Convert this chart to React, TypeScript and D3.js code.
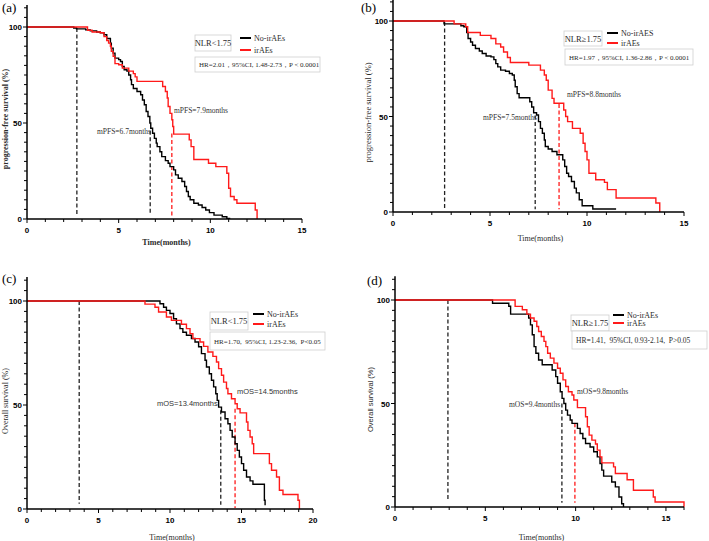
import React from "react";
import * as d3 from "d3";

type Pt = [number, number];

// ---------- DATA (time in months, survival %) ----------
const aNoIrAEs: Pt[] = [[0,100],[2.55,99.5],[2.7,99],[3.2,98.5],[3.45,98],[3.8,97.4],[4.0,97],[4.2,96],[4.35,94],[4.55,91.6],[4.6,89],[4.7,86.4],[4.8,83.8],[5.0,83],[5.1,82],[5.2,79.5],[5.3,77.7],[5.45,77],[5.55,75],[5.65,72.5],[5.7,70],[5.8,68],[6.0,66.4],[6.2,64.7],[6.3,62],[6.4,59.5],[6.5,56],[6.6,53.4],[6.7,50],[6.75,47.3],[6.85,44.7],[6.95,42],[7.05,39.5],[7.1,37.7],[7.25,35],[7.35,32.5],[7.55,30.4],[7.7,29],[7.8,27.3],[8.0,25.6],[8.1,23],[8.25,21.2],[8.45,19.5],[8.6,16.9],[8.7,14.3],[8.8,11.7],[8.9,10],[9.1,8.2],[9.35,7.3],[9.55,6],[9.75,4.7],[9.95,3.3],[10.2,2],[10.65,1.2],[10.9,0.3],[11.05,0]];
const aIrAEs: Pt[] = [[0,100],[3.3,98.3],[3.55,97.4],[4.0,97],[4.2,95],[4.35,93],[4.45,91.6],[4.55,90],[4.6,87.3],[4.7,84.7],[4.8,80.9],[5.0,80.3],[5.2,78.6],[5.55,77],[5.8,75.7],[5.9,74],[6.0,71.7],[7.4,69],[7.55,66.4],[7.65,63],[7.7,58.6],[7.8,55],[7.9,51.7],[7.95,48.2],[8.0,44.2],[8.85,41.2],[8.95,37.7],[9.1,31],[9.9,29],[10.3,27.3],[10.9,23.8],[11.0,16],[11.1,11.7],[11.3,10],[11.45,8.2],[12.45,4.7],[12.55,0]];

const bNoIrAEs: Pt[] = [[0,100],[2.63,98.5],[3.5,97.5],[3.65,97],[3.8,94],[3.87,90.8],[4.0,89],[4.1,87.3],[4.25,85.6],[4.45,84.3],[4.6,83],[4.8,81.7],[5.05,81.2],[5.2,79.8],[5.3,77.7],[5.4,76],[5.55,74.3],[5.8,73.7],[6.0,72.5],[6.15,71.7],[6.25,69],[6.3,65.6],[6.4,62],[6.5,59.8],[7.05,57.7],[7.15,55],[7.25,52],[7.4,50.8],[7.5,47.3],[7.6,43.8],[7.7,41.2],[7.8,37.7],[7.85,34.3],[8.0,33],[8.2,31.7],[8.45,30],[8.75,27.3],[8.85,23.8],[8.95,20.3],[9.05,18.6],[9.2,16],[9.35,12.5],[9.45,10],[9.6,6.4],[9.75,3.3],[10.3,1.6],[11.5,1.6]];
const bIrAEs: Pt[] = [[0,100],[3.15,98.5],[3.75,97],[3.85,94],[4.5,92.5],[5.05,90.8],[5.3,88],[5.55,86.4],[5.7,83.8],[5.9,80.9],[6.05,78.3],[7.0,76.9],[7.6,74.3],[7.8,71.7],[7.9,69],[8.0,63.8],[8.2,59.5],[8.3,56.9],[8.8,53.4],[8.9,50],[9.0,47.3],[9.25,43.8],[9.65,41.2],[9.8,36],[9.9,31.7],[10.0,27.3],[10.1,20.3],[10.45,16.9],[10.9,15.5],[11.05,11.7],[11.5,7.3],[13.55,4.7],[13.75,0]];

const cNoIrAEs: Pt[] = [[0,100],[9.3,98.7],[9.55,97],[9.75,95.5],[10.0,94],[10.25,91.5],[10.45,89],[10.7,86.7],[10.9,85],[11.15,83.5],[11.5,82],[11.75,80.3],[12.0,78],[12.2,74.7],[12.45,71.5],[12.55,68.3],[12.75,65],[12.9,61.9],[13.05,58.7],[13.2,55.4],[13.3,52.2],[13.4,49],[13.6,46.6],[13.85,43.4],[14.05,41],[14.2,37.8],[14.35,34.6],[14.55,31.4],[14.7,28.2],[14.85,25],[15.0,21.8],[15.15,18.6],[15.35,15.4],[15.6,13.5],[15.8,11.9],[16.6,4.2],[16.65,1.8]];
const cIrAEs: Pt[] = [[0,100],[8.25,98.5],[8.95,97],[9.2,94.7],[9.75,92.3],[10.1,90.7],[10.8,88.8],[11.15,86.7],[11.4,84.3],[11.6,81.9],[12.1,80.3],[12.35,78.2],[12.65,75.5],[13.0,73.4],[13.25,70.7],[13.4,67.5],[13.6,64.3],[13.75,61],[13.95,57.9],[14.05,55.4],[14.3,53],[14.55,50.6],[14.7,48.2],[14.9,46.2],[15.35,41.8],[15.45,37.8],[15.6,34.6],[15.75,31.4],[15.85,26.6],[16.95,21.8],[17.1,18.6],[17.45,15.4],[17.65,9],[17.9,7],[18.95,4.2],[19.05,0]];

const dNoIrAEs: Pt[] = [[0,100],[5.4,98.4],[6.3,97],[6.4,93.2],[7.4,91.3],[7.5,88],[7.6,83.2],[7.7,77.5],[7.8,74.3],[7.95,71],[8.15,68.7],[8.7,66.2],[8.9,63],[9.0,59.8],[9.15,55.7],[9.25,52.5],[9.35,50],[9.45,46.8],[9.55,44.4],[9.7,42],[9.8,40.4],[10.1,38],[10.25,35.5],[10.4,33.1],[10.55,30.7],[10.8,29],[11.0,26.7],[11.2,24.2],[11.35,21],[11.45,17.8],[11.55,14.9],[12.0,12.1],[12.2,9.7],[12.4,4.8],[12.55,1.6],[12.65,0]];
const dIrAEs: Pt[] = [[0,100],[6.65,96.9],[7.05,95.3],[7.3,93.2],[7.5,91.3],[7.7,89.7],[7.85,87.2],[7.95,84.8],[8.1,82.4],[8.25,80],[8.35,77.5],[8.45,74.3],[8.6,71.9],[8.8,69.5],[9.0,67],[9.15,64.6],[9.3,61.4],[9.45,58.2],[9.6,55.7],[9.8,54.1],[9.9,51.7],[10.1,48],[10.55,43.6],[10.65,38.8],[10.75,34.7],[10.9,32.3],[11.1,30.4],[11.2,27.5],[11.35,24.2],[11.45,21.3],[12.1,19.4],[12.2,16.2],[12.85,13.2],[13.2,8.1],[14.3,4.8],[14.4,2.4],[16.0,0]];

// dashed reference lines: [time, top %, bottom %, colour key]
const aDashes: [number, number, number, string][] = [[2.72, 99.5, 2, "k"], [6.72, 46, 2, "k"], [7.9, 44.5, 0.5, "r"]];
const bDashes: [number, number, number, string][] = [[2.66, 99.5, 1.5, "k"], [7.33, 50.5, 1.5, "k"], [8.56, 56.5, 1.5, "r"]];
const cDashes: [number, number, number, string][] = [[3.65, 100, 2.5, "k"], [13.55, 47.5, 2, "k"], [14.55, 48.2, 0.5, "r"]];
const dDashes: [number, number, number, string][] = [[2.93, 100, 3, "k"], [9.24, 50, 2, "k"], [9.96, 40.5, 2, "r"]];

const yTicksMajor = [0, 50, 100];
const legendLabelsA = ["No-irAEs", "irAEs"];
const legendLabelsB = ["No-irAES", "irAEs"];

const RED = "#ff1a1a";
const BLACK = "#000";
const SERIF = "'Liberation Serif', 'Times New Roman', serif";
const SANS = "'Liberation Sans', Arial, sans-serif";

interface PanelCfg {
  tag: string; tagX: number; tagY: number;
  x0: number; x1: number; xMax: number; xMajorStep: number;
  yTop: number; yBottom: number;
  no: Pt[]; ir: Pt[]; dashes: [number, number, number, string][];
  yTitle: string; yTitleX: number; yTitleFont: string; yTitleBold: boolean; yTitleSize: number;
  xTitleY: number; xTitleBold: boolean;
  nlr: string; nlrBox: [number, number, number, number];
  legX: number; legY: [number, number]; legLabels: string[];
  hr: string; hrBox: [number, number, number, number]; hrSize: number;
  ann: { text: string; x: number; y: number; font: string; size: number }[];
}

const panels: PanelCfg[] = [
  {
    tag: "(a)", tagX: 2, tagY: 12, x0: 27, x1: 302, xMax: 15, xMajorStep: 5, yTop: 27, yBottom: 219,
    no: aNoIrAEs, ir: aIrAEs, dashes: aDashes,
    yTitle: "progression-free survival (%)", yTitleX: 8, yTitleFont: SERIF, yTitleBold: true, yTitleSize: 8,
    xTitleY: 245, xTitleBold: true,
    nlr: "NLR<1.75", nlrBox: [195, 35, 36, 16], legX: 240, legY: [38, 50], legLabels: legendLabelsA,
    hr: "HR=2.01，95%CI, 1.48-2.73，P＜0.0001", hrBox: [195, 57, 125, 15], hrSize: 7,
    ann: [
      { text: "mPFS=6.7months", x: 97, y: 134, font: SERIF, size: 7.5 },
      { text: "mPFS=7.9months", x: 174, y: 113, font: SERIF, size: 7.5 },
    ],
  },
  {
    tag: "(b)", tagX: 361, tagY: 12, x0: 393, x1: 684, xMax: 15, xMajorStep: 5, yTop: 21, yBottom: 212,
    no: bNoIrAEs, ir: bIrAEs, dashes: bDashes,
    yTitle: "progression-free survival (%)", yTitleX: 371, yTitleFont: SERIF, yTitleBold: false, yTitleSize: 8.5,
    xTitleY: 241, xTitleBold: false,
    nlr: "NLR≥1.75", nlrBox: [564, 31, 38, 15], legX: 607, legY: [33, 43], legLabels: legendLabelsB,
    hr: "HR=1.97，95%CI, 1.36-2.86，P＜0.0001", hrBox: [565, 49, 128, 16], hrSize: 7,
    ann: [
      { text: "mPFS=7.5months", x: 483, y: 120, font: SERIF, size: 7.5 },
      { text: "mPFS=8.8months", x: 567, y: 97, font: SERIF, size: 7.5 },
    ],
  },
  {
    tag: "(c)", tagX: 2, tagY: 283, x0: 27, x1: 313, xMax: 20, xMajorStep: 5, yTop: 301, yBottom: 509,
    no: cNoIrAEs, ir: cIrAEs, dashes: cDashes,
    yTitle: "Overall survival (%)", yTitleX: 8, yTitleFont: SERIF, yTitleBold: false, yTitleSize: 8,
    xTitleY: 540, xTitleBold: false,
    nlr: "NLR<1.75", nlrBox: [210, 312, 38, 18], legX: 253, legY: [314, 324], legLabels: legendLabelsA,
    hr: "HR=1.70,  95%CI, 1.23-2.36,  P<0.05", hrBox: [210, 332, 115, 18], hrSize: 7,
    ann: [
      { text: "mOS=13.4months", x: 157, y: 406, font: SANS, size: 7.5 },
      { text: "mOS=14.5months", x: 237, y: 394, font: SANS, size: 7.5 },
    ],
  },
  {
    tag: "(d)", tagX: 367, tagY: 285, x0: 395, x1: 684, xMax: 16, xMajorStep: 5, yTop: 300, yBottom: 507,
    no: dNoIrAEs, ir: dIrAEs, dashes: dDashes,
    yTitle: "Overall survival (%)", yTitleX: 373, yTitleFont: SANS, yTitleBold: false, yTitleSize: 7.5,
    xTitleY: 540, xTitleBold: false,
    nlr: "NLR≥1.75", nlrBox: [571, 315, 38, 16], legX: 613, legY: [315, 323], legLabels: legendLabelsA,
    hr: "HR=1.41,  95%CI, 0.93-2.14,  P>0.05", hrBox: [572, 331, 135, 18], hrSize: 7.5,
    ann: [
      { text: "mOS=9.4months", x: 509, y: 407, font: SERIF, size: 7.5 },
      { text: "mOS=9.8months", x: 577, y: 394, font: SERIF, size: 7.5 },
    ],
  },
];

function Panel({ p }: { p: PanelCfg }) {
  const x = d3.scaleLinear().domain([0, p.xMax]).range([p.x0, p.x1]);
  const y = d3.scaleLinear().domain([0, 100]).range([p.yBottom, p.yTop]);
  const line = d3.line<Pt>().x((d) => x(d[0])).y((d) => y(d[1])).curve(d3.curveStepAfter);
  const xMinor = d3.range(0, p.xMax + 0.001, 1);
  const xMajor = d3.range(0, p.xMax + 0.001, p.xMajorStep);
  const yMinor = d3.range(0, 111, 5);
  const axisY = y(0);
  const axisX = x(0);
  const yAxisTop = y(111.5);
  const xTitleCx = (x(0) + x(p.xMax)) / 2 + 2;
  const yTitleCy = (y(0) + y(100)) / 2 - 4;
  const txt = "#2a2a2a";
  return (
    <g>
      <text x={p.tagX} y={p.tagY} fontFamily={SERIF} fontSize={13}>{p.tag}</text>
      {p.dashes.map((d, i) => (
        <line key={"d" + i} x1={x(d[0])} x2={x(d[0])} y1={y(d[1])} y2={y(d[2])}
          stroke={d[3] === "r" ? RED : "#222"} strokeWidth={1.3} strokeDasharray="4,2.5" />
      ))}
      <path d={line(p.no) || ""} fill="none" stroke={BLACK} strokeWidth={1.4} />
      <path d={line(p.ir) || ""} fill="none" stroke={RED} strokeWidth={1.4} />
      <line x1={axisX} x2={axisX} y1={yAxisTop} y2={axisY} stroke={BLACK} strokeWidth={1.5} />
      <line x1={axisX} x2={x(p.xMax)} y1={axisY} y2={axisY} stroke={BLACK} strokeWidth={1.5} />
      {yMinor.map((v) => (
        <line key={"ym" + v} x1={axisX - (v % 50 === 0 ? 4 : 3)} x2={axisX} y1={y(v)} y2={y(v)} stroke={BLACK} strokeWidth={1} />
      ))}
      {yTicksMajor.map((v) => (
        <text key={"yl" + v} x={axisX - 5} y={y(v) + 3} textAnchor="end" fontFamily={SANS} fontWeight="bold" fontSize={8}>{v}</text>
      ))}
      {xMinor.map((v) => (
        <line key={"xm" + v} x1={x(v)} x2={x(v)} y1={axisY} y2={axisY + (v % 5 === 0 ? 4 : 3)} stroke={BLACK} strokeWidth={1} />
      ))}
      {xMajor.map((v) => (
        <text key={"xl" + v} x={x(v)} y={axisY + 14} textAnchor="middle" fontFamily={SANS} fontWeight="bold" fontSize={8}>{v}</text>
      ))}
      <text x={xTitleCx} y={p.xTitleY} textAnchor="middle" fontFamily={SERIF} fontWeight={p.xTitleBold ? "bold" : "normal"} fontSize={8} fill={txt}>Time(months)</text>
      <text transform={`translate(${p.yTitleX},${yTitleCy}) rotate(-90)`} textAnchor="middle" fontFamily={p.yTitleFont}
        fontWeight={p.yTitleBold ? "bold" : "normal"} fontSize={p.yTitleSize} fill={txt}>{p.yTitle}</text>
      <rect x={p.nlrBox[0]} y={p.nlrBox[1]} width={p.nlrBox[2]} height={p.nlrBox[3]} fill="#fff" stroke="#cfcfcf" strokeWidth={0.8} />
      <text x={p.nlrBox[0] + p.nlrBox[2] / 2} y={p.nlrBox[1] + p.nlrBox[3] / 2 + 3} textAnchor="middle" fontFamily={SERIF} fontSize={8.5} fill={txt}>{p.nlr}</text>
      <rect x={p.hrBox[0]} y={p.hrBox[1]} width={p.hrBox[2]} height={p.hrBox[3]} fill="#fff" stroke="#cfcfcf" strokeWidth={0.8} />
      <text x={p.hrBox[0] + 4} y={p.hrBox[1] + p.hrBox[3] / 2 + 2.5} fontFamily={SERIF} fontSize={p.hrSize} fill={txt} style={{ whiteSpace: "pre" }}>{p.hr}</text>
      {[BLACK, RED].map((c, i) => (
        <g key={"lg" + i}>
          <line x1={p.legX} x2={p.legX + 11} y1={p.legY[i]} y2={p.legY[i]} stroke={c} strokeWidth={2} />
          <text x={p.legX + 14} y={p.legY[i] + 3} fontFamily={SERIF} fontSize={8} fill={txt}>{p.legLabels[i]}</text>
        </g>
      ))}
      {p.ann.map((a, i) => (
        <text key={"an" + i} x={a.x} y={a.y} fontFamily={a.font} fontSize={a.size} fill="#333">{a.text}</text>
      ))}
    </g>
  );
}

export default function App() {
  return (
    <svg width={709} height={541} style={{ position: "absolute", left: 0, top: 0, background: "#fff" }}>
      <rect width={709} height={541} fill="#fff" />
      {panels.map((p) => <Panel key={p.tag} p={p} />)}
    </svg>
  );
}
